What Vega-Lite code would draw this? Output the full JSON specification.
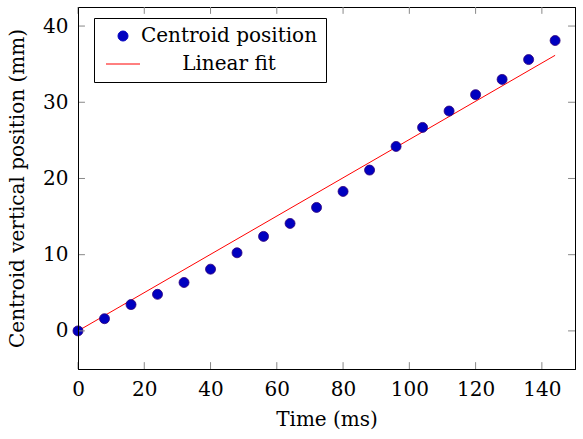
{
  "$schema": "https://vega.github.io/schema/vega-lite/v6.json",
  "width": 497,
  "height": 362,
  "autosize": {"type": "none"},
  "padding": {"left": 78, "top": 7, "right": 8, "bottom": 70},
  "background": "white",
  "config": {
    "view": {"stroke": "black", "strokeWidth": 1},
    "font": "DejaVu Serif",
    "axis": {
      "grid": false,
      "labelFont": "DejaVu Serif",
      "labelFontSize": 20,
      "labelColor": "black",
      "titleFont": "DejaVu Serif",
      "titleFontSize": 20,
      "titleFontWeight": "normal",
      "titleColor": "black"
    }
  },
  "datasets": {
    "centroid": [
      {"t": 0, "y": 0, "series": "Centroid position"},
      {"t": 8, "y": 1.6, "series": "Centroid position"},
      {"t": 16, "y": 3.45, "series": "Centroid position"},
      {"t": 24, "y": 4.8, "series": "Centroid position"},
      {"t": 32, "y": 6.35, "series": "Centroid position"},
      {"t": 40, "y": 8.1, "series": "Centroid position"},
      {"t": 48, "y": 10.25, "series": "Centroid position"},
      {"t": 56, "y": 12.4, "series": "Centroid position"},
      {"t": 64, "y": 14.1, "series": "Centroid position"},
      {"t": 72, "y": 16.2, "series": "Centroid position"},
      {"t": 80, "y": 18.3, "series": "Centroid position"},
      {"t": 88, "y": 21.1, "series": "Centroid position"},
      {"t": 96, "y": 24.2, "series": "Centroid position"},
      {"t": 104, "y": 26.7, "series": "Centroid position"},
      {"t": 112, "y": 28.85, "series": "Centroid position"},
      {"t": 120, "y": 31.0, "series": "Centroid position"},
      {"t": 128, "y": 33.0, "series": "Centroid position"},
      {"t": 136, "y": 35.6, "series": "Centroid position"},
      {"t": 144, "y": 38.1, "series": "Centroid position"}
    ],
    "fit": [
      {"t": 0, "y": 0, "series": "Linear fit"},
      {"t": 144, "y": 36.16, "series": "Linear fit"}
    ],
    "xticks": [{"v": 0}, {"v": 20}, {"v": 40}, {"v": 60}, {"v": 80}, {"v": 100}, {"v": 120}, {"v": 140}],
    "yticks": [{"v": 0}, {"v": 10}, {"v": 20}, {"v": 30}, {"v": 40}]
  },
  "layer": [
    {
      "data": {"name": "fit"},
      "mark": {"type": "line", "strokeWidth": 1, "clip": true},
      "encoding": {
        "x": {
          "field": "t", "type": "quantitative",
          "scale": {"domain": [0, 150], "nice": false, "zero": false},
          "axis": {"orient": "bottom", "values": [0, 20, 40, 60, 80, 100, 120, 140], "title": "Time (ms)", "domain": true, "domainColor": "black", "ticks": false, "zindex": 1, "labelFlush": false, "labelPadding": 10, "titlePadding": 10}
        },
        "y": {
          "field": "y", "type": "quantitative",
          "scale": {"domain": [-5, 42.5], "nice": false, "zero": false},
          "axis": {"orient": "left", "values": [0, 10, 20, 30, 40], "title": "Centroid vertical position (mm)", "domain": true, "domainColor": "black", "ticks": false, "zindex": 1, "labelFlush": false, "labelPadding": 10, "titlePadding": 15}
        },
        "color": {
          "field": "series", "type": "nominal",
          "scale": {"domain": ["Centroid position", "Linear fit"], "range": ["#0000c0", "#ff0000"]},
          "legend": {
            "title": null,
            "orient": "none",
            "legendX": 16,
            "legendY": 11,
            "direction": "vertical",
            "strokeColor": "black",
            "fillColor": "white",
            "padding": 8,
            "rowPadding": 8,
            "symbolSize": 100,
            "symbolOffset": 11,
            "labelFont": "DejaVu Serif",
            "labelFontSize": 20,
            "labelColor": "black",
            "labelAlign": "center",
            "labelOffset": 96,
            "labelLimit": 400,
            "zindex": 2,
            "encode": {
              "symbols": {
                "update": {
                  "shape": {"signal": "datum.label === 'Linear fit' ? 'stroke' : 'circle'"},
                  "size": {"signal": "datum.label === 'Linear fit' ? 1156 : 100"},
                  "fill": {"signal": "datum.label === 'Linear fit' ? 'transparent' : '#0000c0'"},
                  "stroke": {"signal": "datum.label === 'Linear fit' ? '#ff0000' : '#30007a'"},
                  "strokeWidth": {"value": 1},
                  "opacity": {"value": 1},
                  "fillOpacity": {"value": 1}
                }
              }
            }
          }
        }
      }
    },
    {
      "data": {"name": "centroid"},
      "mark": {"type": "point", "filled": true, "size": 100, "opacity": 1, "stroke": "#30007a", "strokeWidth": 0.8},
      "encoding": {
        "x": {
          "field": "t", "type": "quantitative",
          "axis": {"orient": "top", "values": [0, 20, 40, 60, 80, 100, 120, 140], "labels": false, "title": null, "domain": true, "domainColor": "black", "ticks": false}
        },
        "y": {
          "field": "y", "type": "quantitative",
          "axis": {"orient": "right", "values": [0, 10, 20, 30, 40], "labels": false, "title": null, "domain": true, "domainColor": "black", "ticks": false}
        },
        "color": {"field": "series", "type": "nominal"}
      }
    },
    {
      "data": {"name": "xticks"},
      "mark": {"type": "rule", "color": "#888888", "strokeWidth": 1},
      "encoding": {
        "x": {"field": "v", "type": "quantitative", "axis": null},
        "y": {"datum": -5, "axis": null},
        "y2": {"datum": -4.1}
      }
    },
    {
      "data": {"name": "xticks"},
      "mark": {"type": "rule", "color": "#888888", "strokeWidth": 1},
      "encoding": {
        "x": {"field": "v", "type": "quantitative", "axis": null},
        "y": {"datum": 42.5, "axis": null},
        "y2": {"datum": 41.6}
      }
    },
    {
      "data": {"name": "yticks"},
      "mark": {"type": "rule", "color": "#888888", "strokeWidth": 1},
      "encoding": {
        "y": {"field": "v", "type": "quantitative", "axis": null},
        "x": {"datum": 0, "axis": null},
        "x2": {"datum": 2.1}
      }
    },
    {
      "data": {"name": "yticks"},
      "mark": {"type": "rule", "color": "#888888", "strokeWidth": 1},
      "encoding": {
        "y": {"field": "v", "type": "quantitative", "axis": null},
        "x": {"datum": 150, "axis": null},
        "x2": {"datum": 147.9}
      }
    }
  ],
  "resolve": {"axis": {"x": "independent", "y": "independent"}}
}
